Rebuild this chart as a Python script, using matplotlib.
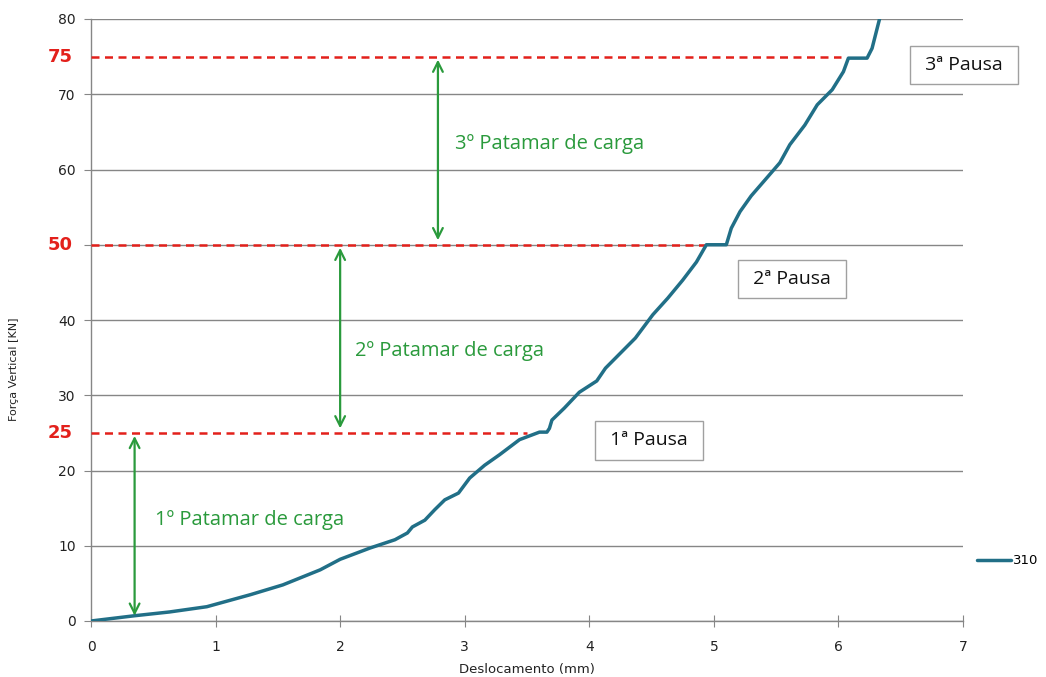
import matplotlib
matplotlib.use("Agg")
import matplotlib.pyplot as plt
from matplotlib.transforms import blended_transform_factory

# Load test curve: displacement (mm) vs vertical force (kN)
deslocamento = [0.00, 0.35, 0.63, 0.93, 1.28, 1.54, 1.72, 1.84, 2.00, 2.24, 2.44, 2.54,
                2.58, 2.68, 2.76, 2.84, 2.95, 3.04, 3.16, 3.28, 3.44, 3.60, 3.66, 3.68,
                3.70, 3.80, 3.92, 4.06, 4.13, 4.25, 4.37, 4.51, 4.63, 4.75, 4.86, 4.94,
                5.10, 5.14, 5.21, 5.30, 5.41, 5.53, 5.61, 5.73, 5.83, 5.95, 6.04, 6.08,
                6.23, 6.27, 6.33]
forca = [0.0, 0.7, 1.2, 1.9, 3.5, 4.8, 6.0, 6.8, 8.2, 9.7, 10.8, 11.7,
         12.5, 13.4, 14.8, 16.1, 17.0, 19.0, 20.7, 22.1, 24.1, 25.1, 25.1, 25.6,
         26.7, 28.3, 30.4, 31.9, 33.6, 35.6, 37.6, 40.7, 42.9, 45.3, 47.7, 50.0,
         50.0, 52.2, 54.4, 56.5, 58.6, 60.9, 63.3, 65.9, 68.6, 70.6, 73.0, 74.8,
         74.8, 76.1, 80.0]
serie = "310"

# Load steps (kN) and the displacement where each dashed reference line ends
patamares = [25, 50, 75]
fim_linha = [3.50, 4.93, 6.02]

# Step arrows: x position, lower and upper force
setas_x = [0.35, 2.00, 2.785]
setas_y0 = [0.7, 25.6, 50.6]
setas_y1 = [24.6, 49.6, 74.6]
setas_txt = ["1º Patamar de carga", "2º Patamar de carga", "3º Patamar de carga"]
setas_txt_xy = [(0.51, 13.4), (2.12, 35.9), (2.92, 63.4)]

# Pause labels
pausas = ["1ª Pausa", "2ª Pausa", "3ª Pausa"]
pausas_xy = [(4.48, 24.0), (5.63, 45.4), (7.01, 73.9)]

x_ticks = [0, 1, 2, 3, 4, 5, 6, 7]
y_ticks = [0, 10, 20, 30, 40, 50, 60, 70, 80]
y_tick_labels = ["0", "10", "20", "30", "40", "", "60", "70", "80"]

verde = "#2a9a3c"
vermelho = "#e3201b"
azul = "#216f87"
cinza = "#868686"

fig = plt.figure(figsize=(10.46, 6.77), dpi=100)
ax = fig.add_axes([91 / 1046, 1 - 621 / 677, 872 / 1046, 602 / 677])

ax.set_xlim(0, 7)
ax.set_ylim(0, 80)
ax.set_xticks(x_ticks)
ax.set_yticks(y_ticks)
ax.set_yticklabels(y_tick_labels)
ax.grid(axis="y", color=cinza, lw=1.0)
ax.set_axisbelow(True)
for s in ["top", "right"]:
    ax.spines[s].set_visible(False)
for s in ["left", "bottom"]:
    ax.spines[s].set_color(cinza)
    ax.spines[s].set_linewidth(1.0)
ax.tick_params(axis="y", direction="out", length=5, color=cinza, labelsize=10,
               labelcolor="#222222", pad=6)
ax.tick_params(axis="x", direction="inout", length=9, color=cinza, labelsize=10,
               labelcolor="#222222", pad=9)

ax.set_xlabel("Deslocamento (mm)", fontsize=9.5, color="#222222")
ax.xaxis.set_label_coords(0.5, -0.069)
ax.set_ylabel("Força Vertical [KN]", fontsize=8, color="#222222")
ax.yaxis.set_label_coords(-0.082, 0.419)

# Dashed reference lines and red force values
trans = blended_transform_factory(ax.transAxes, ax.transData)
for p, xe in zip(patamares, fim_linha):
    ax.plot([0, xe], [p, p], ls=(0, (3.2, 2.2)), color=vermelho, lw=1.8, zorder=3)
    ax.text(-0.021, p, str(p), transform=trans, ha="right", va="center",
            color=vermelho, fontsize=13, fontweight="bold")

# Curve
ax.plot(deslocamento, forca, color=azul, lw=2.5, label=serie, zorder=4,
        solid_capstyle="round")

# Double arrows and step labels
for xs, y0, y1, txt, (tx, ty) in zip(setas_x, setas_y0, setas_y1, setas_txt, setas_txt_xy):
    ax.annotate("", xy=(xs, y0), xytext=(xs, y1),
                arrowprops=dict(arrowstyle="<->,head_length=0.7,head_width=0.35",
                                color=verde, lw=1.6, shrinkA=0, shrinkB=0), zorder=5)
    ax.text(tx, ty, txt, color=verde, fontsize=14.5, family="Open Sans",
            ha="left", va="center")

# Pause boxes
for txt, (px, py) in zip(pausas, pausas_xy):
    ax.text(px, py, " " + txt + " ", fontsize=14, family="Open Sans", color="#111111",
            ha="center", va="center", clip_on=False,
            bbox=dict(boxstyle="square,pad=0.52", fc="white", ec="#a0a0a0", lw=1.0))

ax.legend(loc="center left", bbox_to_anchor=(1.01, 0.1), frameon=False,
          handlelength=2.6, handletextpad=0.1, fontsize=9.5, borderaxespad=0)

fig.savefig("out.png", dpi=100)
